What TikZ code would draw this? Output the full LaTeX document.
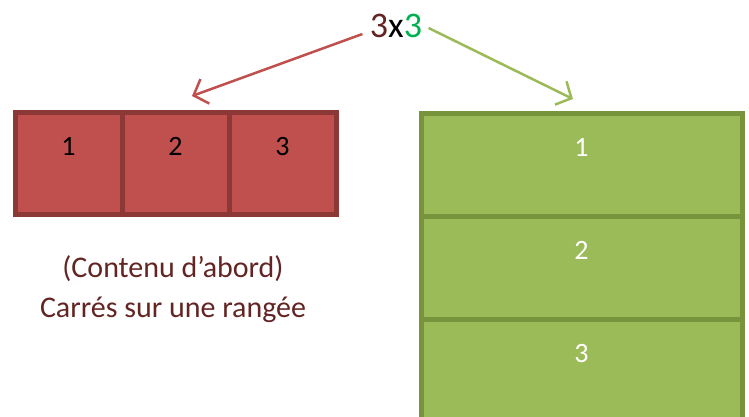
\documentclass[tikz,border=0pt]{standalone}
\usepackage{fontspec}
\setmainfont{Carlito}
\usetikzlibrary{arrows.meta}
\definecolor{redfill}{HTML}{C0504D}
\definecolor{redline}{HTML}{8C3836}
\definecolor{greenfill}{HTML}{9BBB59}
\definecolor{greenline}{HTML}{77933C}
\definecolor{darkred}{HTML}{632523}
\definecolor{brightgreen}{HTML}{00B050}
\tikzset{
  redcell/.style={draw=redline,fill=redfill,line width=5pt,inner sep=0pt,
    minimum width=107pt,minimum height=102pt},
  greencell/.style={draw=greenline,fill=greenfill,line width=5pt,inner sep=0pt,
    minimum width=321pt,minimum height=103pt},
  num/.style={font=\fontsize{28}{32}\selectfont},
  pointer/.style={line width=2.5pt,-{Straight Barb[length=12pt,width=26pt]}}
}
\begin{document}
\begin{tikzpicture}[x=1pt,y=1pt]
\useasboundingbox (0,0) rectangle (749,-416);
\node[font=\fontsize{36}{40}\selectfont] (title) at (396,-26)
  {\textcolor{darkred}{3}x\textcolor{brightgreen}{3}};

\node[redcell] (r1) at (68.5,-163) {};
\node[redcell] (r2) at (175.5,-163) {};
\node[redcell] (r3) at (282.5,-163) {};
\node[num] (n1) at ([yshift=-37pt]r1.north) {1};
\node[num] (n2) at ([yshift=-37pt]r2.north) {2};
\node[num] (n3) at ([yshift=-37pt]r3.north) {3};

\node[greencell] (g1) at (581.5,-164.5) {};
\node[greencell] (g2) at (581.5,-267.5) {};
\node[greencell] (g3) at (581.5,-370.5) {};
\node[num,white] (m1) at ([yshift=-37pt]g1.north) {1};
\node[num,white] (m2) at ([yshift=-37pt]g2.north) {2};
\node[num,white] (m3) at ([yshift=-37pt]g3.north) {3};

\node[darkred,font=\fontsize{30}{40}\selectfont,align=center] (caption) at (173,-289)
  {(Contenu d’abord)\\Carrés sur une rangée};

\coordinate (redtip) at (192,-96);
\coordinate (greentip) at (573,-99);
\draw[pointer,redfill] ([xshift=-4pt,yshift=-8pt]title.west) -- (redtip);
\draw[pointer,greenfill] ([xshift=3pt,yshift=-2pt]title.east) -- (greentip);
\end{tikzpicture}
\end{document}
